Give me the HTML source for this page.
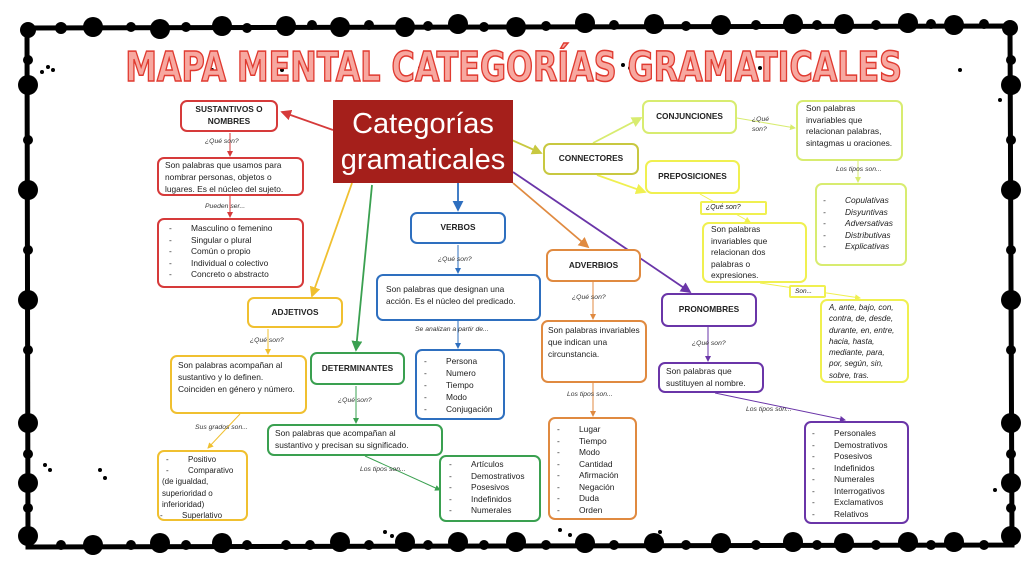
<!DOCTYPE html>
<html><head><meta charset="utf-8">
<style>
body{margin:0;width:1024px;height:570px;background:#fff;position:relative;overflow:hidden;font-family:"Liberation Sans",sans-serif;}
.b{position:absolute;box-sizing:border-box;border:2px solid;border-radius:7px;background:#fff;font-size:8.4px;color:#222;line-height:11.8px;padding:3px 6px;}
.t{font-weight:bold;display:flex;align-items:center;justify-content:center;text-align:center;font-size:8.3px;}
.l{position:absolute;font-size:6.8px;font-style:italic;color:#333;white-space:nowrap;}
ul{margin:0;padding:0;list-style:none}
li:before{content:"-";display:inline-block;width:22px;padding-left:4px}
svg{position:absolute;left:0;top:0}
</style></head><body>
<svg width="1024" height="570">
<defs>
<marker id="a" markerWidth="6" markerHeight="6" refX="5" refY="3" orient="auto"><path d="M0 0L6 3L0 6Z" fill="context-stroke"/></marker>
</defs>
<g stroke="#000" stroke-width="5" fill="none">
<path d="M27 28 L1010 26 L1012 545 L28 547 Z"/>
</g>
<g fill="#000">
<circle cx="61" cy="28" r="6"/><circle cx="93" cy="27" r="10"/><circle cx="131" cy="27" r="5"/><circle cx="160" cy="29" r="10"/><circle cx="186" cy="27" r="5"/><circle cx="222" cy="26" r="10"/><circle cx="247" cy="28" r="5"/><circle cx="286" cy="26" r="10"/><circle cx="312" cy="25" r="5"/><circle cx="340" cy="27" r="10"/><circle cx="369" cy="25" r="5"/><circle cx="405" cy="27" r="10"/><circle cx="428" cy="26" r="5"/><circle cx="458" cy="24" r="10"/><circle cx="484" cy="27" r="5"/><circle cx="516" cy="27" r="10"/><circle cx="546" cy="26" r="5"/><circle cx="585" cy="23" r="10"/><circle cx="614" cy="25" r="5"/><circle cx="654" cy="24" r="10"/><circle cx="686" cy="26" r="5"/><circle cx="721" cy="25" r="10"/><circle cx="756" cy="25" r="5"/><circle cx="793" cy="24" r="10"/><circle cx="817" cy="25" r="5"/><circle cx="844" cy="24" r="10"/><circle cx="876" cy="25" r="5"/><circle cx="908" cy="23" r="10"/><circle cx="931" cy="24" r="5"/><circle cx="954" cy="25" r="10"/><circle cx="984" cy="24" r="5"/>
<circle cx="28" cy="30" r="8"/><circle cx="1010" cy="28" r="8"/>
<circle cx="28" cy="60" r="5"/><circle cx="28" cy="85" r="10"/><circle cx="28" cy="140" r="5"/><circle cx="28" cy="190" r="10"/><circle cx="28" cy="250" r="5"/><circle cx="28" cy="300" r="10"/><circle cx="28" cy="350" r="5"/><circle cx="28" cy="423" r="10"/><circle cx="28" cy="454" r="5"/><circle cx="28" cy="483" r="10"/><circle cx="28" cy="508" r="5"/><circle cx="28" cy="536" r="10"/>
<circle cx="1011" cy="60" r="5"/><circle cx="1011" cy="85" r="10"/><circle cx="1011" cy="140" r="5"/><circle cx="1011" cy="190" r="10"/><circle cx="1011" cy="250" r="5"/><circle cx="1011" cy="300" r="10"/><circle cx="1011" cy="350" r="5"/><circle cx="1011" cy="423" r="10"/><circle cx="1011" cy="454" r="5"/><circle cx="1011" cy="483" r="10"/><circle cx="1011" cy="508" r="5"/><circle cx="1011" cy="536" r="10"/>
<circle cx="61" cy="545" r="5"/><circle cx="93" cy="545" r="10"/><circle cx="131" cy="545" r="5"/><circle cx="160" cy="543" r="10"/><circle cx="186" cy="545" r="5"/><circle cx="222" cy="543" r="10"/><circle cx="247" cy="545" r="5"/><circle cx="286" cy="545" r="5"/><circle cx="310" cy="545" r="5"/><circle cx="340" cy="542" r="10"/><circle cx="369" cy="545" r="5"/><circle cx="405" cy="542" r="10"/><circle cx="428" cy="545" r="5"/><circle cx="458" cy="542" r="10"/><circle cx="484" cy="545" r="5"/><circle cx="516" cy="542" r="10"/><circle cx="546" cy="545" r="5"/><circle cx="585" cy="543" r="10"/><circle cx="614" cy="545" r="5"/><circle cx="654" cy="543" r="10"/><circle cx="686" cy="545" r="5"/><circle cx="721" cy="543" r="10"/><circle cx="756" cy="545" r="5"/><circle cx="793" cy="542" r="10"/><circle cx="817" cy="545" r="5"/><circle cx="844" cy="543" r="10"/><circle cx="876" cy="545" r="5"/><circle cx="908" cy="542" r="10"/><circle cx="931" cy="545" r="5"/><circle cx="954" cy="542" r="10"/><circle cx="984" cy="545" r="5"/>
<circle cx="42" cy="72" r="2"/><circle cx="48" cy="67" r="2"/><circle cx="53" cy="70" r="2"/><circle cx="212" cy="70" r="2"/><circle cx="218" cy="70" r="2"/><circle cx="276" cy="65" r="2"/><circle cx="282" cy="70" r="2"/><circle cx="420" cy="68" r="2"/><circle cx="428" cy="72" r="2"/><circle cx="623" cy="65" r="2"/><circle cx="630" cy="68" r="2"/><circle cx="695" cy="65" r="2"/><circle cx="760" cy="68" r="2"/><circle cx="862" cy="65" r="2"/><circle cx="960" cy="70" r="2"/><circle cx="1000" cy="100" r="2"/>
<circle cx="45" cy="465" r="2"/><circle cx="50" cy="470" r="2"/><circle cx="100" cy="470" r="2"/><circle cx="105" cy="478" r="2"/><circle cx="385" cy="532" r="2"/><circle cx="392" cy="536" r="2"/><circle cx="560" cy="530" r="2"/><circle cx="570" cy="535" r="2"/><circle cx="660" cy="532" r="2"/><circle cx="995" cy="490" r="2"/>
</g>
<g fill="none" stroke-width="1.8" marker-end="url(#a)">
<path d="M333 130 L282 112" stroke="#d63a3a"/>
<path d="M352 183 L312 296" stroke="#f0c030"/>
<path d="M372 185 L356 350" stroke="#3aa050"/>
<path d="M458 183 L458 210" stroke="#2e6fbf"/>
<path d="M513 183 L588 247" stroke="#e08a40"/>
<path d="M513 172 L690 292" stroke="#6a35a8"/>
<path d="M505 137 L541 153" stroke="#c8c840"/>
<path d="M593 143 L641 118" stroke="#d8ec70"/>
<path d="M597 175 L645 192" stroke="#f0f050"/>
</g>
<g fill="none" stroke-width="1" marker-end="url(#a)">
<path d="M230 133 L230 156" stroke="#d63a3a"/><path d="M230 196 L230 217" stroke="#d63a3a"/>
<path d="M268 329 L268 354" stroke="#f0c030"/><path d="M240 414 L208 448" stroke="#f0c030"/>
<path d="M356 386 L356 423" stroke="#3aa050"/><path d="M365 456 L440 490" stroke="#3aa050"/>
<path d="M458 245 L458 273" stroke="#2e6fbf"/><path d="M458 321 L458 348" stroke="#2e6fbf"/>
<path d="M593 282 L593 319" stroke="#e08a40"/><path d="M593 383 L593 416" stroke="#e08a40"/>
<path d="M708 327 L708 361" stroke="#6a35a8"/><path d="M715 393 L845 420" stroke="#6a35a8"/>
<path d="M737 118 L795 128" stroke="#d8ec70"/><path d="M858 161 L858 182" stroke="#d8ec70"/>
<path d="M700 194 L750 222" stroke="#f0f050"/><path d="M760 283 L860 298" stroke="#f0f050"/>
</g>
</svg>
<div style="position:absolute;left:12px;top:43px;width:1000px;text-align:center;white-space:nowrap;font:bold 41px 'DejaVu Sans Condensed','Liberation Sans',sans-serif;color:#f7a8a0;-webkit-text-stroke:1.5px #e03a30;transform:scaleX(0.86);transform-origin:512px 0">MAPA MENTAL CATEGORÍAS GRAMATICALES</div>
<div style="position:absolute;left:333px;top:100px;width:180px;height:83px;background:#a51f1b;color:#fff;font-size:29px;line-height:36px;text-align:center;padding-top:6px;box-sizing:border-box">Categorías gramaticales</div>

<div class="b t" style="left:180px;top:100px;width:98px;height:32px;border-color:#d63a3a">SUSTANTIVOS O NOMBRES</div>
<div class="l" style="left:205px;top:138px">¿Qué son?</div>
<div class="b" style="left:157px;top:157px;width:147px;height:39px;border-color:#d63a3a;padding:1px 6px">Son palabras que usamos para nombrar personas, objetos o lugares. Es el núcleo del sujeto.</div>
<div class="l" style="left:205px;top:203px">Pueden ser...</div>
<div class="b" style="left:157px;top:218px;width:147px;height:70px;border-color:#d63a3a;line-height:11.5px"><ul><li>Masculino o femenino</li><li>Singular o plural</li><li>Común o propio</li><li>Individual o colectivo</li><li>Concreto o abstracto</li></ul></div>

<div class="b t" style="left:247px;top:297px;width:96px;height:31px;border-color:#f0c030">ADJETIVOS</div>
<div class="l" style="left:250px;top:337px">¿Qué son?</div>
<div class="b" style="left:170px;top:355px;width:137px;height:59px;border-color:#f0c030">Son palabras acompañan al sustantivo y lo definen. Coinciden en género y número.</div>
<div class="l" style="left:195px;top:424px">Sus grados son...</div>
<div class="b" style="left:157px;top:450px;width:91px;height:71px;border-color:#f0c030;font-size:8px;line-height:11.2px;padding:2px 3px"><ul><li>Positivo</li><li>Comparativo</li></ul>(de igualdad, superioridad o inferioridad)<ul><li style="margin-left:-6px">Superlativo</li></ul></div>

<div class="b t" style="left:310px;top:352px;width:95px;height:33px;border-color:#3aa050">DETERMINANTES</div>
<div class="l" style="left:338px;top:397px">¿Qué son?</div>
<div class="b" style="left:267px;top:424px;width:176px;height:32px;border-color:#3aa050;padding:2px 6px">Son palabras que acompañan al sustantivo y precisan su significado.</div>
<div class="l" style="left:360px;top:466px">Los tipos son...</div>
<div class="b" style="left:439px;top:455px;width:102px;height:67px;border-color:#3aa050;line-height:11.5px;padding:2px 4px"><ul><li>Artículos</li><li>Demostrativos</li><li>Posesivos</li><li>Indefinidos</li><li>Numerales</li></ul></div>

<div class="b t" style="left:410px;top:212px;width:96px;height:32px;border-color:#2e6fbf">VERBOS</div>
<div class="l" style="left:438px;top:256px">¿Qué son?</div>
<div class="b" style="left:376px;top:274px;width:165px;height:47px;border-color:#2e6fbf;padding:8px 8px">Son palabras que designan una acción. Es el núcleo del predicado.</div>
<div class="l" style="left:415px;top:326px">Se analizan a partir de...</div>
<div class="b" style="left:415px;top:349px;width:90px;height:71px;border-color:#2e6fbf;line-height:12px;padding:4px 3px"><ul><li>Persona</li><li>Numero</li><li>Tiempo</li><li>Modo</li><li>Conjugación</li></ul></div>

<div class="b t" style="left:546px;top:249px;width:95px;height:33px;border-color:#e08a40">ADVERBIOS</div>
<div class="l" style="left:572px;top:294px">¿Qué son?</div>
<div class="b" style="left:541px;top:320px;width:106px;height:63px;border-color:#e08a40;padding:3px 5px">Son palabras invariables que indican una circunstancia.</div>
<div class="l" style="left:567px;top:391px">Los tipos son...</div>
<div class="b" style="left:548px;top:417px;width:89px;height:103px;border-color:#e08a40;line-height:11.5px;padding:5px 3px"><ul><li>Lugar</li><li>Tiempo</li><li>Modo</li><li>Cantidad</li><li>Afirmación</li><li>Negación</li><li>Duda</li><li>Orden</li></ul></div>

<div class="b t" style="left:543px;top:143px;width:96px;height:32px;border-color:#c8c840">CONNECTORES</div>
<div class="b t" style="left:642px;top:100px;width:95px;height:34px;border-color:#d8ec70">CONJUNCIONES</div>
<div class="l" style="left:752px;top:115px;line-height:10px">¿Qué<br>son?</div>
<div class="b" style="left:796px;top:100px;width:107px;height:61px;border-color:#d8ec70;line-height:11.5px;padding:1px 8px">Son palabras invariables que relacionan palabras, sintagmas u oraciones.</div>
<div class="l" style="left:836px;top:166px">Los tipos son...</div>
<div class="b" style="left:815px;top:183px;width:92px;height:83px;border-color:#d8ec70;font-style:italic;line-height:11.5px;padding:10px 2px"><ul><li>Copulativas</li><li>Disyuntivas</li><li>Adversativas</li><li>Distributivas</li><li>Explicativas</li></ul></div>
<div class="b t" style="left:645px;top:160px;width:95px;height:34px;border-color:#f0f050">PREPOSICIONES</div>
<div class="b" style="left:700px;top:201px;width:67px;height:14px;border-color:#f0f050;border-radius:2px;font-size:7px;font-style:italic;line-height:9px;padding:0 4px">¿Qué son?</div>
<div class="b" style="left:702px;top:222px;width:105px;height:61px;border-color:#f0f050;line-height:11.5px;padding:0 7px">Son palabras invariables que relacionan dos palabras o expresiones.</div>
<div class="b" style="left:789px;top:285px;width:37px;height:13px;border-color:#f0f050;border-radius:2px;font-size:6.5px;font-style:italic;line-height:9px;padding:0 4px">Son...</div>
<div class="b" style="left:820px;top:299px;width:89px;height:84px;border-color:#f0f050;font-style:italic;font-size:8px;line-height:11.3px;padding:1px 7px">A, ante, bajo, con, contra, de, desde, durante, en, entre, hacia, hasta, mediante, para, por, según, sin, sobre, tras.</div>

<div class="b t" style="left:661px;top:293px;width:96px;height:34px;border-color:#6a35a8">PRONOMBRES</div>
<div class="l" style="left:692px;top:340px">¿Qué son?</div>
<div class="b" style="left:658px;top:362px;width:106px;height:31px;border-color:#6a35a8;padding:2px 6px">Son palabras que sustituyen al nombre.</div>
<div class="l" style="left:746px;top:406px">Los tipos son...</div>
<div class="b" style="left:804px;top:421px;width:105px;height:103px;border-color:#6a35a8;line-height:11.5px;padding:5px 2px"><ul><li>Personales</li><li>Demostrativos</li><li>Posesivos</li><li>Indefinidos</li><li>Numerales</li><li>Interrogativos</li><li>Exclamativos</li><li>Relativos</li></ul></div>
</body></html>
